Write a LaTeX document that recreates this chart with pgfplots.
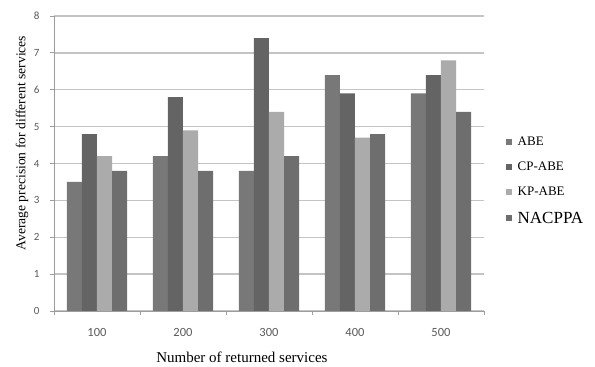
\documentclass[border=0pt]{standalone}
\usepackage{fontspec}
\setmainfont{Liberation Serif}
\newfontfamily\tickfont{Carlito}
\usepackage{pgfplots}
\pgfplotsset{compat=1.18}

\definecolor{cABE}{HTML}{787878}
\definecolor{cCP}{HTML}{646464}
\definecolor{cKP}{HTML}{ABABAB}
\definecolor{cNA}{HTML}{6E6E6E}
\definecolor{gridc}{HTML}{C4C4C4}

\pgfplotstableread{
x ABE CPABE KPABE NACPPA
0 3.5 4.8 4.2 3.8
1 4.2 5.8 4.9 3.8
2 3.8 7.4 5.4 4.2
3 6.4 5.9 4.7 4.8
4 5.9 6.4 6.8 5.4
}\datatable

\begin{document}
\begin{tikzpicture}
\useasboundingbox (0,0) rectangle (595pt,367pt);
\begin{axis}[
  at={(54pt,56pt)}, anchor=south west,
  scale only axis,
  width=430pt, height=295pt,
  ybar=0pt, bar width=0.175,
  xmin=-0.5, xmax=4.5,
  ymin=0, ymax=8,
  xtick={0,1,2,3,4},
  xticklabels={100,200,300,400,500},
  minor xtick={-0.5,0.5,1.5,2.5,3.5,4.5},
  major x tick style={draw=none},
  minor x tick style={draw=gridc!80!black, line width=0.8pt},
  minor tick length=4pt,
  ytick={0,1,...,8},
  ymajorgrids,
  grid style={draw=gridc, line width=1.3pt},
  axis x line*=bottom,
  axis y line*=left,
  axis line style={draw=gridc!80!black, line width=0.8pt, -},
  y tick style={draw=gridc!80!black, line width=0.8pt},
  tick align=outside,
  major tick length=4pt,
  ticklabel style={text=black!65},
  xticklabel style={font=\tickfont\fontsize{12.5}{14}\selectfont, yshift=-10pt},
  yticklabel style={font=\tickfont\fontsize{11}{13}\selectfont, xshift=-7pt},
  /pgf/number format/assume math mode=true,
  xlabel={Number of returned services},
  ylabel={Average precision for different services},
  xlabel style={font=\fontsize{15}{17}\selectfont,
    at={(axis description cs:0.437,-0.156)}, anchor=center},
  ylabel style={font=\fontsize{13.6}{16}\selectfont,
    at={(axis description cs:-0.0744,0.569)}, anchor=center},
  legend style={
    at={(axis description cs:1.05,0.598)}, anchor=north west,
    draw=none, fill=none, inner sep=0pt,
    font=\fontsize{13}{15}\selectfont,
    row sep=11pt,
    cells={anchor=west},
  },
  legend image code/.code={\fill[#1] (0pt,-3pt) rectangle (6pt,3pt); \path (10pt,0pt);},
]
\addplot[fill=cABE, draw=none] table[x=x, y=ABE] {\datatable};
\addplot[fill=cCP, draw=none] table[x=x, y=CPABE] {\datatable};
\addplot[fill=cKP, draw=none] table[x=x, y=KPABE] {\datatable};
\addplot[fill=cNA, draw=none] table[x=x, y=NACPPA] {\datatable};
\addlegendentry{ABE}
\addlegendentry{CP-ABE}
\addlegendentry{KP-ABE}
\addlegendentry{\fontsize{17}{19}\selectfont NACPPA}
\end{axis}
\end{tikzpicture}
\end{document}
